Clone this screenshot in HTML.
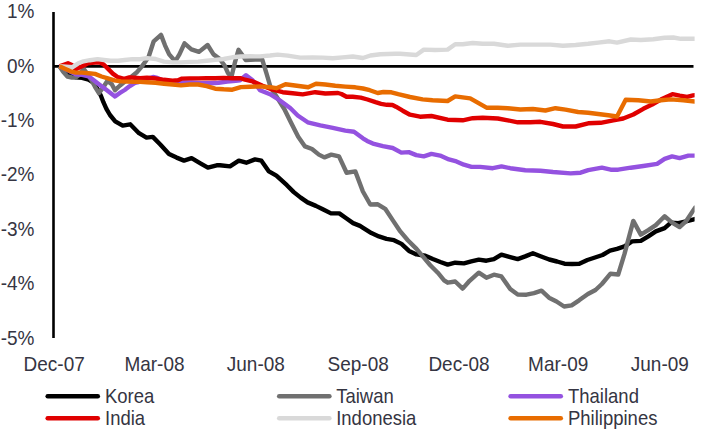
<!DOCTYPE html>
<html><head><meta charset="utf-8"><style>
html,body{margin:0;padding:0;background:#fff;}
body{width:704px;height:435px;overflow:hidden;}
svg{display:block;}
.t{font-family:"Liberation Sans",sans-serif;font-size:20px;fill:#353542;}
.l{font-family:"Liberation Sans",sans-serif;font-size:20px;fill:#353542;}
</style></head><body>
<svg width="704" height="435" viewBox="0 0 704 435">
<rect x="0" y="0" width="704" height="435" fill="#ffffff"/>
<line x1="53.5" y1="12" x2="53.5" y2="338" stroke="#000" stroke-width="2.6"/>
<line x1="53" y1="66.4" x2="693.5" y2="66.4" stroke="#000" stroke-width="2.8"/>
<defs><clipPath id="pc"><rect x="0" y="0" width="694.6" height="340"/></clipPath></defs>
<g clip-path="url(#pc)">
<polyline fill="none" stroke="#000000" stroke-width="4.4" stroke-linejoin="round" stroke-linecap="butt" points="59.5,66.3 64.2,69.5 69.3,73.8 75.7,77.2 82.2,77.8 88.6,79.7 93.8,82.9 97.6,89.3 100.9,95.8 103.4,102.2 106.4,108.8 110.0,115.0 115.2,121.3 122.7,125.6 130.2,124.3 139.0,133.2 146.5,137.6 152.8,136.9 160.3,144.5 169.0,154.0 176.6,157.6 184.0,160.6 191.6,158.2 200.4,163.3 207.9,167.6 216.7,165.3 220.0,165.3 230.0,166.4 238.8,160.7 246.3,162.7 255.0,159.4 261.4,160.7 268.9,171.4 276.4,175.7 286.9,185.2 293.8,192.1 300.7,197.6 307.6,202.4 315.9,205.9 322.8,209.3 331.0,213.4 339.3,213.4 346.2,218.3 353.1,223.1 360.0,225.9 362.7,227.6 371.4,233.1 378.9,236.4 386.5,238.9 394.0,240.2 401.5,243.9 409.0,250.9 416.5,254.4 425.3,255.7 432.8,259.0 440.4,262.0 447.7,264.6 455.2,262.7 463.9,263.4 471.3,261.4 478.8,259.6 486.4,260.7 493.9,259.1 501.4,254.6 510.2,257.1 517.7,259.1 525.2,256.4 532.9,253.2 540.5,256.2 549.2,259.5 557.0,261.5 564.5,263.7 572.0,264.0 579.3,263.7 587.4,260.0 595.0,257.5 602.5,255.0 610.0,250.7 617.0,248.9 624.5,246.4 632.0,241.4 640.8,240.9 648.3,236.4 655.8,231.4 664.6,228.1 670.9,222.6 678.4,223.1 685.9,221.4 693.9,219.3 696.0,218.7"/>
<polyline fill="none" stroke="#707070" stroke-width="4.4" stroke-linejoin="round" stroke-linecap="butt" points="59.5,66.3 63.0,71.5 67.4,76.5 71.9,77.5 75.7,77.6 79.6,74.5 83.5,68.7 86.0,72.0 91.2,79.7 95.0,86.8 98.9,93.2 102.8,88.0 107.3,81.0 111.8,84.2 115.0,90.2 120.0,85.5 125.2,81.2 131.4,76.7 136.6,72.6 141.7,66.6 146.0,60.7 148.5,57.3 153.7,41.3 161.0,34.9 165.0,45.3 169.2,54.4 175.2,61.3 179.4,54.4 184.5,43.3 191.4,49.3 199.0,51.9 207.6,45.0 213.5,54.4 219.5,58.7 224.6,65.5 228.0,73.1 231.4,77.1 234.8,62.9 238.5,49.8 242.5,55.3 245.7,60.0 255.3,59.5 262.2,59.5 266.4,73.1 270.5,87.0 277.4,98.0 284.3,109.0 291.2,122.9 298.2,136.7 305.0,146.4 312.0,149.0 318.9,154.6 324.4,157.4 331.3,154.6 339.0,156.4 346.6,172.7 355.3,171.4 362.9,191.5 370.3,204.5 377.8,204.3 385.2,208.8 392.7,220.1 400.3,231.4 407.8,240.2 416.5,248.9 422.8,256.4 430.3,265.2 437.8,272.7 444.1,280.3 447.7,282.7 455.2,281.5 462.7,288.6 469.6,280.8 478.8,272.7 486.4,277.7 493.9,274.7 501.4,276.4 510.2,289.0 517.7,294.5 526.5,294.7 534.0,293.2 541.5,290.7 549.0,297.7 556.5,301.5 564.1,306.5 571.6,305.3 579.1,300.3 587.9,294.0 595.5,290.0 601.9,284.0 610.5,273.7 618.2,274.5 624.5,253.9 629.5,235.1 633.3,220.9 640.8,234.6 648.3,230.1 655.8,225.1 664.6,216.3 672.1,222.6 679.6,227.1 685.9,221.4 693.9,209.5 696.0,206.4"/>
<polyline fill="none" stroke="#9452e0" stroke-width="4.4" stroke-linejoin="round" stroke-linecap="butt" points="59.5,66.3 64.2,68.3 69.3,71.0 75.7,74.2 82.2,74.8 88.6,76.3 93.8,80.3 98.9,84.2 104.0,88.0 109.2,91.9 115.0,96.4 119.5,93.2 124.7,90.0 129.8,86.1 135.0,82.9 138.6,82.0 144.8,79.0 150.0,78.0 153.0,77.0 157.3,78.0 164.0,80.7 174.3,82.4 182.8,82.4 191.4,82.4 201.6,83.3 210.1,83.3 218.6,82.8 227.2,81.6 235.7,80.7 240.0,80.2 246.0,75.2 252.6,80.2 260.0,90.2 270.0,94.2 280.0,100.5 290.2,108.0 297.7,115.5 307.7,122.3 320.3,125.3 332.8,127.8 345.3,130.6 354.0,131.8 362.9,138.3 367.1,140.9 372.9,143.6 382.9,146.2 392.7,148.0 401.3,152.6 408.8,152.1 416.3,155.1 423.8,156.4 431.4,153.9 440.1,155.6 448.9,159.4 456.4,161.4 463.9,164.7 471.5,166.9 480.2,166.9 492.8,168.2 501.5,166.4 510.3,168.2 525.3,170.2 540.4,170.7 553.0,172.0 570.6,173.4 580.6,172.7 588.2,170.2 601.9,167.7 610.7,169.7 618.2,169.7 630.8,167.7 643.3,166.0 657.1,163.9 664.6,158.9 672.1,156.4 679.6,158.1 688.4,155.6 694.7,155.6 696.0,155.6"/>
<polyline fill="none" stroke="#e00000" stroke-width="4.4" stroke-linejoin="round" stroke-linecap="butt" points="59.5,66.3 68.0,63.3 71.9,65.0 75.7,69.2 80.9,66.8 84.8,64.9 88.0,63.3 92.0,62.8 99.3,62.3 103.4,64.3 107.6,68.4 112.8,73.6 117.9,77.2 124.1,78.8 129.3,77.4 134.5,77.8 140.0,78.3 147.0,77.8 155.6,78.5 164.0,79.8 172.6,80.6 178.0,80.3 182.0,78.6 189.7,78.4 198.2,78.4 206.7,78.3 215.2,78.2 223.7,77.9 232.3,78.2 240.8,78.2 245.0,79.7 252.6,81.4 262.6,85.7 272.6,89.7 282.7,92.2 292.7,93.2 302.7,94.4 315.2,92.2 325.3,93.5 338.0,93.0 341.4,94.0 346.5,96.8 352.7,96.8 360.7,97.6 367.5,99.5 375.5,102.2 381.1,103.9 386.8,104.8 392.5,105.0 395.9,106.7 402.7,110.7 410.0,114.7 420.0,116.7 431.4,116.0 447.6,119.7 462.7,120.3 472.7,118.2 482.7,117.7 497.8,118.5 507.8,120.3 517.8,122.3 530.3,122.3 540.4,121.8 553.0,124.0 563.0,126.5 575.6,126.5 588.2,123.3 600.7,122.8 613.2,120.3 623.2,118.5 633.3,114.5 643.3,108.8 652.1,104.6 660.8,99.6 672.4,94.2 679.8,95.6 687.1,96.8 693.0,95.4 696.0,95.0"/>
<polyline fill="none" stroke="#d9d9d9" stroke-width="4.4" stroke-linejoin="round" stroke-linecap="butt" points="59.5,66.3 66.0,66.8 72.5,67.2 78.3,63.3 83.5,61.3 89.9,60.2 97.6,59.1 104.0,60.0 110.5,60.8 118.2,60.8 124.7,60.0 132.4,59.1 140.0,59.2 147.0,58.1 155.6,59.0 164.0,61.6 172.6,62.4 181.0,62.4 189.7,61.9 198.2,61.6 206.7,60.8 215.2,59.9 223.7,59.0 232.3,57.3 240.8,56.5 250.0,56.3 260.0,56.4 270.0,55.5 277.6,54.6 287.7,55.6 300.2,57.6 312.7,57.5 322.8,57.6 332.8,58.3 342.8,57.4 352.8,56.5 362.9,58.0 370.4,55.5 380.4,54.2 395.4,53.8 400.0,53.8 416.3,55.0 423.8,49.6 435.1,50.0 447.6,49.6 455.2,44.3 462.7,44.3 472.7,43.0 482.7,43.8 494.0,43.8 507.8,45.8 520.3,44.6 535.4,44.6 550.4,44.6 563.0,45.8 575.6,45.0 588.2,43.8 598.2,42.6 609.5,41.3 617.0,42.6 630.8,39.5 640.8,40.0 653.3,39.3 664.6,37.8 673.4,37.5 680.9,38.8 694.7,38.8 696.0,38.8"/>
<polyline fill="none" stroke="#e86c00" stroke-width="4.4" stroke-linejoin="round" stroke-linecap="butt" points="59.5,66.3 65.4,69.0 70.6,71.3 75.7,72.6 82.2,72.6 88.6,73.2 95.0,73.9 101.5,76.5 107.9,78.4 114.4,80.3 120.8,81.4 127.2,81.6 133.7,81.9 140.0,81.9 147.0,82.3 155.6,82.8 164.0,83.7 172.6,84.5 181.0,85.4 189.7,84.5 198.2,84.5 206.7,86.2 215.2,88.7 223.7,89.3 232.3,89.7 240.8,87.1 250.0,86.7 260.0,86.4 270.0,87.2 276.4,88.2 285.5,84.3 296.8,85.7 308.2,87.3 316.0,83.8 325.3,84.5 335.3,85.7 345.3,86.6 355.3,87.3 363.0,88.5 369.8,90.2 377.7,93.0 383.4,92.0 391.4,92.3 398.2,94.2 410.0,97.0 422.6,99.4 432.6,100.2 447.6,101.0 455.2,96.4 470.2,98.4 477.7,102.7 486.5,107.7 497.8,107.7 507.8,108.2 520.3,109.5 532.9,109.0 545.4,110.5 555.5,108.2 565.5,109.6 578.1,112.0 588.2,112.7 598.2,114.0 608.2,115.2 617.0,116.5 625.7,99.7 638.3,100.2 650.8,101.5 660.8,100.2 670.9,99.4 683.4,100.2 694.7,101.5 696.0,101.6"/>
</g>
<text transform="translate(34.5,18.1) scale(0.95,1)" text-anchor="end" class="t">1%</text>
<text transform="translate(34.5,72.5) scale(0.95,1)" text-anchor="end" class="t">0%</text>
<text transform="translate(34.5,126.9) scale(0.95,1)" text-anchor="end" class="t">-1%</text>
<text transform="translate(34.5,181.3) scale(0.95,1)" text-anchor="end" class="t">-2%</text>
<text transform="translate(34.5,235.7) scale(0.95,1)" text-anchor="end" class="t">-3%</text>
<text transform="translate(34.5,290.1) scale(0.95,1)" text-anchor="end" class="t">-4%</text>
<text transform="translate(34.5,344.5) scale(0.95,1)" text-anchor="end" class="t">-5%</text>
<text transform="translate(54.2,371.2) scale(0.95,1)" text-anchor="middle" class="t">Dec-07</text>
<text transform="translate(154.5,371.2) scale(0.95,1)" text-anchor="middle" class="t">Mar-08</text>
<text transform="translate(255.8,371.2) scale(0.95,1)" text-anchor="middle" class="t">Jun-08</text>
<text transform="translate(358.2,371.2) scale(0.95,1)" text-anchor="middle" class="t">Sep-08</text>
<text transform="translate(459,371.2) scale(0.95,1)" text-anchor="middle" class="t">Dec-08</text>
<text transform="translate(558.2,371.2) scale(0.95,1)" text-anchor="middle" class="t">Mar-09</text>
<text transform="translate(659.8,371.2) scale(0.95,1)" text-anchor="middle" class="t">Jun-09</text>
<line x1="47.7" y1="396.2" x2="97.8" y2="396.2" stroke="#000000" stroke-width="4.5" stroke-linecap="round"/>
<text transform="translate(105,402.7) scale(0.925,1)" class="l">Korea</text>
<line x1="47.7" y1="418.2" x2="97.8" y2="418.2" stroke="#e00000" stroke-width="4.5" stroke-linecap="round"/>
<text transform="translate(105,424.7) scale(0.925,1)" class="l">India</text>
<line x1="279.2" y1="396.2" x2="329.4" y2="396.2" stroke="#707070" stroke-width="4.5" stroke-linecap="round"/>
<text transform="translate(336.2,402.7) scale(0.925,1)" class="l">Taiwan</text>
<line x1="279.2" y1="418.2" x2="329.4" y2="418.2" stroke="#d9d9d9" stroke-width="4.5" stroke-linecap="round"/>
<text transform="translate(336.2,424.7) scale(0.925,1)" class="l">Indonesia</text>
<line x1="510.6" y1="396.2" x2="560.8" y2="396.2" stroke="#9452e0" stroke-width="4.5" stroke-linecap="round"/>
<text transform="translate(568,402.7) scale(0.925,1)" class="l">Thailand</text>
<line x1="510.6" y1="418.2" x2="560.8" y2="418.2" stroke="#e86c00" stroke-width="4.5" stroke-linecap="round"/>
<text transform="translate(568,424.7) scale(0.925,1)" class="l">Philippines</text>
</svg>
</body></html>
